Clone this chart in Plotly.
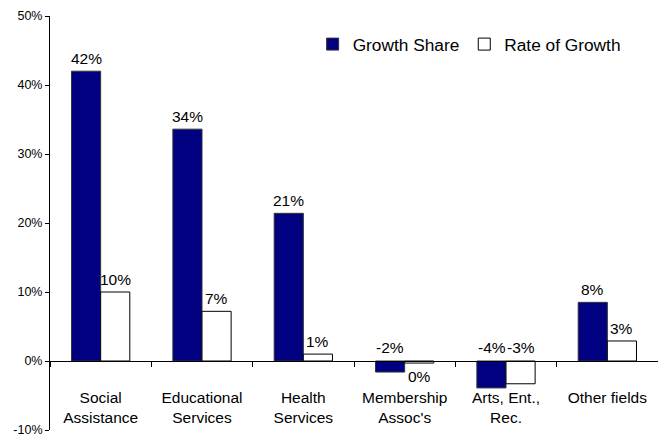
import plotly.graph_objects as go

categories = ["Social<br>Assistance", "Educational<br>Services", "Health<br>Services",
              "Membership<br>Assoc's", "Arts, Ent.,<br>Rec.", "Other fields"]
growth_share = [42.0, 33.6, 21.4, -1.6, -3.9, 8.5]
rate_of_growth = [10.0, 7.2, 1.0, -0.3, -3.3, 2.9]
share_labels = ["42%", "34%", "21%", "-2%", "-4%", "8%"]
rate_labels = ["10%", "7%", "1%", "0%", "-3%", "3%"]
y_ticks = [-10, 0, 10, 20, 30, 40, 50]
y_tick_labels = ["-10%", "0%", "10%", "20%", "30%", "40%", "50%"]

FONT = "Liberation Sans, Arial, sans-serif"
NAVY = "#000080"

fig = go.Figure()
fig.add_trace(go.Bar(x=categories, y=growth_share, name="Growth Share",
                     marker=dict(color=NAVY, line=dict(color="#333333", width=1))))
fig.add_trace(go.Bar(x=categories, y=rate_of_growth, name="Rate of Growth",
                     marker=dict(color="white", line=dict(color="black", width=1))))

annotations = []
for series, labels, shift in ((growth_share, share_labels, -14.5), (rate_of_growth, rate_labels, 14.5)):
    for cat, v, lab in zip(categories, series, labels):
        if -1 < v < 0:
            y, ya, ys = v, "top", -3
        elif v < 0:
            y, ya, ys = 0, "bottom", 3
        else:
            y, ya, ys = v, "bottom", 2
        annotations.append(dict(x=cat, y=y, text=lab, showarrow=False, xshift=shift,
                                yanchor=ya, yshift=ys, font=dict(size=15.5, color="black", family=FONT)))

fig.update_layout(
    width=666, height=436,
    margin=dict(l=42, r=16, t=8, b=14),
    paper_bgcolor="white", plot_bgcolor="white",
    barmode="group", bargap=0.425, bargroupgap=0,
    font=dict(family=FONT, color="black"),
    showlegend=True,
    legend=dict(orientation="h", x=0.432, y=0.975, xanchor="left", yanchor="top",
                font=dict(size=17.3, family=FONT), bgcolor="rgba(0,0,0,0)",
                traceorder="normal"),
    annotations=annotations,
)
fig.update_xaxes(
    type="category", tickson="boundaries", ticks="outside", ticklen=5, tickcolor="black",
    showline=True, linecolor="black", linewidth=1, showgrid=False, zeroline=False,
    anchor="free", position=1/6, ticklabelstandoff=22, automargin=False,
    tickfont=dict(size=15.5, family=FONT, color="black"),
)
fig.update_yaxes(
    range=[-10, 50], tickvals=y_ticks, ticktext=y_tick_labels, ticks="outside", ticklen=4,
    tickcolor="black", showline=True, linecolor="black", linewidth=1, automargin=False,
    showgrid=False, zeroline=False, tickfont=dict(size=12.5, family=FONT, color="black"),
)

fig.write_html("out.html")
